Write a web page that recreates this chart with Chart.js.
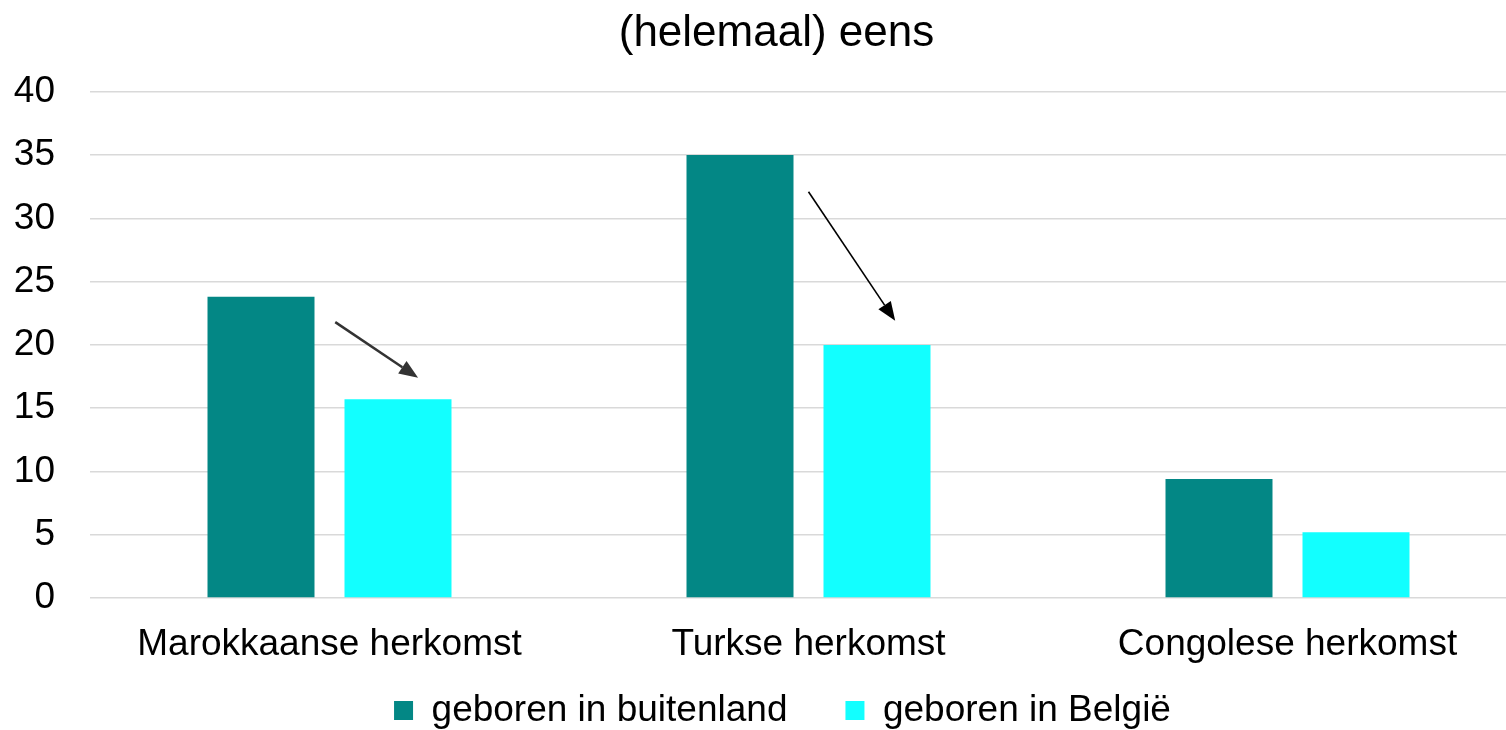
<!DOCTYPE html>
<html lang="nl">
<head>
<meta charset="utf-8">
<title>(helemaal) eens</title>
<script src="https://cdn.jsdelivr.net/npm/chart.js@4/dist/chart.umd.min.js"></script>
<style>
	html, body { margin: 0; padding: 0; background: #fff; overflow: hidden; }
	/* plot area in the source runs a little past the right edge, so the box is wider than the window */
	#wrap { position: relative; width: 1527px; height: 730px; }
</style>
</head>
<body>
<div id="wrap"><canvas id="chart"></canvas></div>
<script>
( function () {
	'use strict';

	var CATEGORIES = [ 'Marokkaanse herkomst', 'Turkse herkomst', 'Congolese herkomst' ];
	var BUITENLAND = [ 23.8, 35.0, 9.4 ];
	var BELGIE     = [ 15.7, 20.0, 5.2 ];
	var Y_TICKS    = [ 0, 5, 10, 15, 20, 25, 30, 35, 40 ];

	// arrows: [ from category pos, from value, to category pos, to value, colour, width ]
	var ARROWS = [
		[ 0.012, 21.8, 0.185, 17.4, '#333333', 2.5 ],
		[ 1.0,   32.1, 1.181, 21.9, '#000000', 1.6 ],
	];

	var FONT = '"Liberation Sans", Arial, Helvetica, sans-serif';

	var arrowPlugin = {
		id: 'arrows',
		afterDatasetsDraw: function ( chart ) {
			var ctx = chart.ctx;
			var xs  = chart.scales.x;
			var ys  = chart.scales.y;
			ARROWS.forEach( function ( a ) {
				var x1 = xs.getPixelForValue( a[ 0 ] );
				var y1 = ys.getPixelForValue( a[ 1 ] );
				var x2 = xs.getPixelForValue( a[ 2 ] );
				var y2 = ys.getPixelForValue( a[ 3 ] );
				var ang = Math.atan2( y2 - y1, x2 - x1 );
				var len = 19, half = 7.5;
				var bx = x2 - len * Math.cos( ang );
				var by = y2 - len * Math.sin( ang );
				ctx.save();
				ctx.strokeStyle = a[ 4 ];
				ctx.fillStyle   = a[ 4 ];
				ctx.lineWidth   = a[ 5 ];
				ctx.beginPath();
				ctx.moveTo( x1, y1 );
				ctx.lineTo( bx, by );
				ctx.stroke();
				ctx.beginPath();
				ctx.moveTo( x2, y2 );
				ctx.lineTo( bx + half * Math.sin( ang ), by - half * Math.cos( ang ) );
				ctx.lineTo( bx - half * Math.sin( ang ), by + half * Math.cos( ang ) );
				ctx.closePath();
				ctx.fill();
				ctx.restore();
			} );
		},
	};

	// title and legend sit slightly off the default spots in the source
	var nudgePlugin = {
		id: 'nudge',
		afterLayout: function ( chart ) {
			if ( chart.titleBlock ) {
				chart.titleBlock.left  += 6;
				chart.titleBlock.right += 6;
			}
			if ( chart.legend ) {
				chart.legend.left   += 12;
				chart.legend.right  += 12;
				chart.legend.top    -= 34;
				chart.legend.bottom  = chart.height; // legend clips to its box
			}
		},
	};

	new Chart( document.getElementById( 'chart' ), {
		type: 'bar',
		data: {
			labels: CATEGORIES,
			datasets: [
				{
					label:              'geboren in buitenland',
					data:               BUITENLAND,
					backgroundColor:    '#038785',
					categoryPercentage: 0.572,
					barPercentage:      0.781,
				},
				{
					label:              'geboren in België',
					data:               BELGIE,
					backgroundColor:    '#12ffff',
					categoryPercentage: 0.572,
					barPercentage:      0.781,
				},
			],
		},
		options: {
			responsive:          true,
			maintainAspectRatio: false,
			animation:           false,
			layout: { padding: { left: 14, right: 0, top: 0, bottom: 4 } },
			plugins: {
				title: {
					display: true,
					text:    '(helemaal) eens',
					color:   '#000',
					font:    { family: FONT, size: 44, weight: 'normal' },
					padding: { top: 7, bottom: 32 },
				},
				legend: {
					position:  'bottom',
					maxHeight: 58,
					labels: {
						color:     '#000',
						font:      { family: FONT, size: 37 },
						boxWidth:  19,
						boxHeight: 19,
						padding:   58,
					},
				},
				tooltip: { enabled: false },
			},
			scales: {
				x: {
					grid:   { display: false },
					border: { display: false },
					ticks:  {
						color:       '#000',
						font:        { family: FONT, size: 37 },
						padding:     17,
						maxRotation: 0,
					},
					afterFit: function ( axis ) {
						axis.height = 70;
					},
				},
				y: {
					min: 0,
					max: 40,
					afterBuildTicks: function ( axis ) {
						axis.ticks = Y_TICKS.map( function ( v ) { return { value: v }; } );
					},
					grid:   { color: '#d9d9d9', lineWidth: 1.5, drawTicks: false },
					border: { display: false },
					ticks:  {
						color:   '#000',
						font:    { family: FONT, size: 37 },
						padding: 35,
					},
					afterFit: function ( axis ) {
						axis.width = 76;
					},
				},
			},
		},
		plugins: [ arrowPlugin, nudgePlugin ],
	} );
} )();
</script>
</body>
</html>
